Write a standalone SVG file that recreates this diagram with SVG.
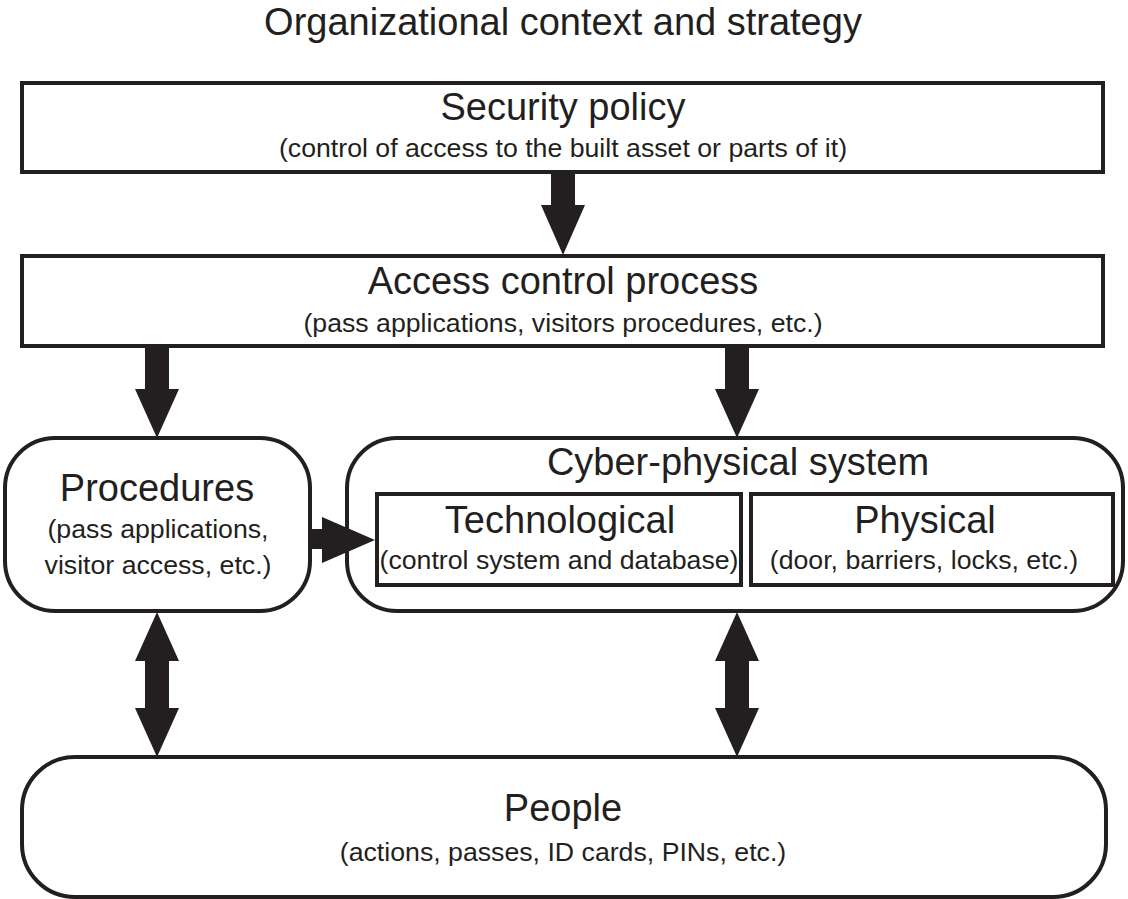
<svg xmlns="http://www.w3.org/2000/svg" width="1128" height="899" viewBox="0 0 1128 899">
<style>
.box{fill:#fff;stroke:#231f20;stroke-width:4}
.t{font-family:"Liberation Sans",Arial,sans-serif;fill:#231f20;text-anchor:middle}
.h{font-size:38px}
.s{font-size:26.7px}
.arr{fill:#231f20}
</style>
<rect width="1128" height="899" fill="#fff"/>
<text class="t h" x="563" y="35">Organizational context and strategy</text>
<g id="security-policy">
<rect class="box" x="22" y="83" width="1081" height="89"/>
<text class="t h" x="563" y="120">Security policy</text>
<text class="t s" x="563" y="157">(control of access to the built asset or parts of it)</text>
</g>
<g id="access-control">
<rect class="box" x="22" y="256" width="1081" height="90"/>
<text class="t h" x="563" y="294">Access control process</text>
<text class="t s" x="563" y="332">(pass applications, visitors procedures, etc.)</text>
</g>
<g id="procedures">
<rect class="box" x="5" y="438" width="305" height="173" rx="50" ry="50"/>
<text class="t h" x="157" y="501">Procedures</text>
<text class="t s" x="158" y="538">(pass applications,</text>
<text class="t s" x="158" y="574">visitor access, etc.)</text>
</g>
<g id="cyber-physical">
<rect class="box" x="347" y="438" width="776" height="173" rx="50" ry="50"/>
<text class="t h" x="738" y="475">Cyber-physical system</text>
</g>
<g id="technological">
<rect class="box" x="377" y="494" width="364" height="91"/>
<text class="t h" x="560" y="533">Technological</text>
<text class="t s" x="559" y="569">(control system and database)</text>
</g>
<g id="physical">
<rect class="box" x="751" y="494" width="362" height="91"/>
<text class="t h" x="925" y="533">Physical</text>
<text class="t s" x="924" y="569">(door, barriers, locks, etc.)</text>
</g>
<g id="people">
<rect class="box" x="22" y="757" width="1084" height="140" rx="53" ry="53"/>
<text class="t h" x="563" y="821">People</text>
<text class="t s" x="563" y="861">(actions, passes, ID cards, PINs, etc.)</text>
</g>
<g id="connectors">
<polygon class="arr" points="551,172 575,172 575,205 585,205 563,255 541,205 551,205"/>
<polygon class="arr" points="145,346 169,346 169,389 179,389 157,438 135,389 145,389"/>
<polygon class="arr" points="725,346 749,346 749,389 759,389 737,438 715,389 725,389"/>
<polygon class="arr" points="310,529 322,529 322,517 375,540 322,563 322,549 310,549"/>
<polygon class="arr" points="157,612 179,661 169,661 169,708 179,708 157,757 135,708 145,708 145,661 135,661"/>
<polygon class="arr" points="737,612 759,661 749,661 749,708 759,708 737,757 715,708 725,708 725,661 715,661"/>
</g>
</svg>
